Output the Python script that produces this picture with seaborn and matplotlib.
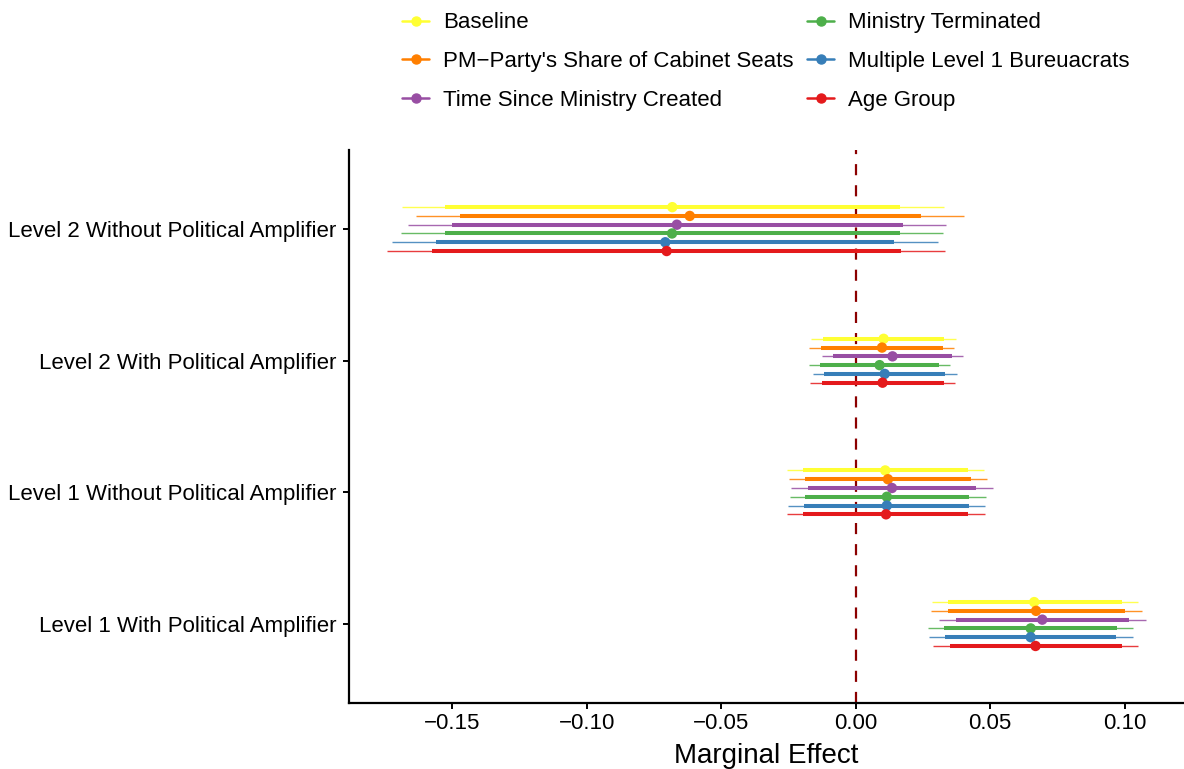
import numpy as np
import pandas as pd
import matplotlib
matplotlib.use('Agg')
import matplotlib.pyplot as plt
from matplotlib.lines import Line2D
import seaborn as sns

# categories (top to bottom) and model specifications
categories = ['Level 2 Without Political Amplifier', 'Level 2 With Political Amplifier',
              'Level 1 Without Political Amplifier', 'Level 1 With Political Amplifier']
models = ['Baseline', "PM\u2212Party's Share of Cabinet Seats", 'Time Since Ministry Created',
          'Ministry Terminated', 'Multiple Level 1 Bureuacrats', 'Age Group']
colors = ['#FFFF33', '#FF7F00', '#984EA3', '#4DAF4A', '#377EB8', '#E41A1C']

# point estimates, rows = categories, cols = models
est = [[-0.0682, -0.0617, -0.0665, -0.0683, -0.0708, -0.0703],
       [0.0104, 0.0098, 0.0137, 0.0089, 0.0108, 0.0100],
       [0.0110, 0.0120, 0.0135, 0.0116, 0.0116, 0.0113],
       [0.0664, 0.0671, 0.0694, 0.0651, 0.0651, 0.0669]]
# inner (thick) intervals
lo90 = [[-0.1526, -0.1472, -0.1503, -0.1529, -0.1562, -0.1574],
        [-0.0122, -0.0129, -0.0084, -0.0131, -0.0118, -0.0127],
        [-0.0196, -0.0189, -0.0178, -0.0187, -0.0192, -0.0196],
        [0.0345, 0.0343, 0.0372, 0.0330, 0.0333, 0.0350]]
hi90 = [[0.0164, 0.0242, 0.0175, 0.0164, 0.0144, 0.0170],
        [0.0329, 0.0323, 0.0358, 0.0311, 0.0333, 0.0327],
        [0.0417, 0.0429, 0.0447, 0.0423, 0.0422, 0.0419],
        [0.0989, 0.1003, 0.1018, 0.0971, 0.0970, 0.0989]]
# outer (thin) intervals
lo95 = [[-0.1689, -0.1634, -0.1665, -0.1692, -0.1726, -0.1743],
        [-0.0166, -0.0172, -0.0125, -0.0173, -0.0160, -0.0171],
        [-0.0255, -0.0249, -0.0239, -0.0245, -0.0251, -0.0255],
        [0.0283, 0.0280, 0.0311, 0.0269, 0.0271, 0.0288]]
hi95 = [[0.0327, 0.0404, 0.0336, 0.0325, 0.0307, 0.0334],
        [0.0372, 0.0366, 0.0400, 0.0351, 0.0377, 0.0370],
        [0.0478, 0.0490, 0.0509, 0.0483, 0.0481, 0.0481],
        [0.1050, 0.1065, 0.1080, 0.1033, 0.1032, 0.1050]]

rows = []
for i, c in enumerate(categories):
    for j, m in enumerate(models):
        rows.append(dict(category=c, model=m, est=est[i][j], lo90=lo90[i][j], hi90=hi90[i][j],
                         lo95=lo95[i][j], hi95=hi95[i][j]))
df = pd.DataFrame(rows)

# dodge positions
dodge = 0.4
df['ypos'] = df['category'].map({c: i for i, c in enumerate(categories)}) + \
    (df['model'].map({m: j for j, m in enumerate(models)}) - (len(models) - 1) / 2) * dodge / len(models)

sns.set_style('white')
plt.rcParams['font.family'] = ['Liberation Sans', 'DejaVu Sans']
plt.rcParams['text.color'] = 'black'

fig = plt.figure(figsize=(11.84, 7.69), dpi=100)
ax = fig.add_axes([0.2948, 0.0858, 0.7052, 0.719])

palette = dict(zip(models, colors))
for m in models:
    d = df[df['model'] == m]
    ax.hlines(d['ypos'], d['lo95'], d['hi95'], color=palette[m], lw=1.0, alpha=0.85, zorder=2)
    ax.hlines(d['ypos'], d['lo90'], d['hi90'], color=palette[m], lw=2.9, zorder=3)
sns.scatterplot(data=df, x='est', y='ypos', hue='model', palette=palette, s=56,
                edgecolor='none', legend=False, ax=ax, zorder=4)

ax.axvline(0, color='#8B0000', lw=1.6, ls=(0, (5, 4.5)), zorder=1)

xmin = df['lo95'].min()
xmax = df['hi95'].max()
pad = (xmax - xmin) * 0.05
ax.set_xlim(xmin - pad, xmax + pad)
ax.set_ylim(len(categories) - 1 + 0.6, -0.6)
ax.set_yticks(range(len(categories)))
ax.set_yticklabels(categories)
ax.set_xticks([-0.15, -0.10, -0.05, 0.00, 0.05, 0.10])
ax.set_xticklabels(['\u22120.15', '\u22120.10', '\u22120.05', '0.00', '0.05', '0.10'])
ax.tick_params(axis='both', labelsize=16, colors='black', length=4, width=1.4, direction='out',
               bottom=True, left=True)
ax.tick_params(axis='x', pad=3.5)
ax.tick_params(axis='y', pad=5)
ax.set_xlabel('Marginal Effect', fontsize=20, labelpad=6, color='black')
ax.set_ylabel('')
sns.despine(ax=ax)
for s in ['left', 'bottom']:
    ax.spines[s].set_linewidth(1.6)
    ax.spines[s].set_color('black')

handles = [Line2D([0], [0], color=col, lw=1.8, marker='o', markersize=6.5) for col in colors]
fig.legend(handles, models, loc='upper center', bbox_to_anchor=(0.647, 1.010), ncol=2,
           frameon=False, fontsize=16, handlelength=1.2, handletextpad=0.65,
           columnspacing=0.6, labelspacing=0.8)

fig.savefig('out.png', dpi=100)
